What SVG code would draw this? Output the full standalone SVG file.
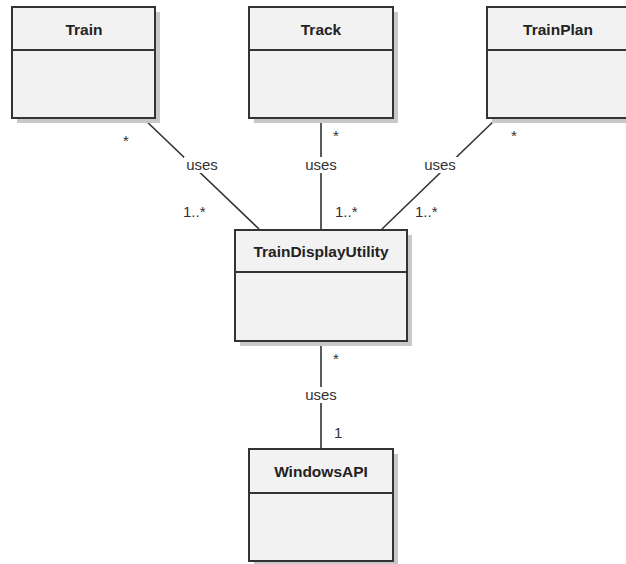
<svg xmlns="http://www.w3.org/2000/svg" width="626" height="564" viewBox="0 0 626 564">
<style>
.shadow{fill:#c8c8c8}
.box{fill:#f2f2f2;stroke:#333;stroke-width:2}
.div{stroke:#333;stroke-width:2}
.title{font-family:"Liberation Sans",Arial,sans-serif;font-size:15.5px;font-weight:bold;fill:#222;text-anchor:middle}
.lbl{font-family:"Liberation Sans",Arial,sans-serif;font-size:15px;fill:#333}
.mid{text-anchor:middle}
.ln{stroke:#333;stroke-width:1.6;fill:none}
.bg{fill:#fff}
</style>
<rect width="626" height="564" fill="#fff"/>
<g id="connectors">
  <line class="ln" x1="143" y1="118" x2="259" y2="229"/>
  <line class="ln" x1="321" y1="118" x2="321" y2="229"/>
  <line class="ln" x1="497" y1="118" x2="382" y2="229"/>
  <line class="ln" x1="321" y1="341" x2="321" y2="449"/>
  <rect class="bg" x="184" y="157" width="36" height="16"/>
  <rect class="bg" x="303" y="157" width="36" height="16"/>
  <rect class="bg" x="422" y="157" width="36" height="16"/>
  <rect class="bg" x="303" y="387" width="36" height="16"/>
  <text class="lbl mid" x="202" y="170">uses</text>
  <text class="lbl mid" x="321" y="170">uses</text>
  <text class="lbl mid" x="440" y="170">uses</text>
  <text class="lbl mid" x="321" y="400">uses</text>
  <text class="lbl" x="123" y="146">*</text>
  <text class="lbl" x="183" y="217">1..*</text>
  <text class="lbl" x="333" y="141">*</text>
  <text class="lbl" x="335" y="217">1..*</text>
  <text class="lbl" x="511" y="141">*</text>
  <text class="lbl" x="415" y="217">1..*</text>
  <text class="lbl" x="333" y="364">*</text>
  <text class="lbl" x="334" y="438">1</text>
</g>
<g id="Train">
  <rect class="shadow" x="17" y="12" width="143" height="111"/>
  <rect class="box" x="12" y="7" width="143" height="111"/>
  <line class="div" x1="12" y1="50" x2="155" y2="50"/>
  <text class="title" x="84" y="35">Train</text>
</g>
<g id="Track">
  <rect class="shadow" x="254" y="12" width="144" height="111"/>
  <rect class="box" x="249" y="7" width="144" height="111"/>
  <line class="div" x1="249" y1="50" x2="393" y2="50"/>
  <text class="title" x="321" y="35">Track</text>
</g>
<g id="TrainPlan">
  <rect class="shadow" x="492" y="12" width="143" height="111"/>
  <rect class="box" x="487" y="7" width="143" height="111"/>
  <line class="div" x1="487" y1="50" x2="630" y2="50"/>
  <text class="title" x="558" y="35">TrainPlan</text>
</g>
<g id="TrainDisplayUtility">
  <rect class="shadow" x="240" y="235" width="172" height="111"/>
  <rect class="box" x="235" y="230" width="172" height="111"/>
  <line class="div" x1="235" y1="272" x2="407" y2="272"/>
  <text class="title" x="321" y="257">TrainDisplayUtility</text>
</g>
<g id="WindowsAPI">
  <rect class="shadow" x="254" y="454" width="144" height="112"/>
  <rect class="box" x="249" y="449" width="144" height="112"/>
  <line class="div" x1="249" y1="493" x2="393" y2="493"/>
  <text class="title" x="321" y="477">WindowsAPI</text>
</g>
</svg>
